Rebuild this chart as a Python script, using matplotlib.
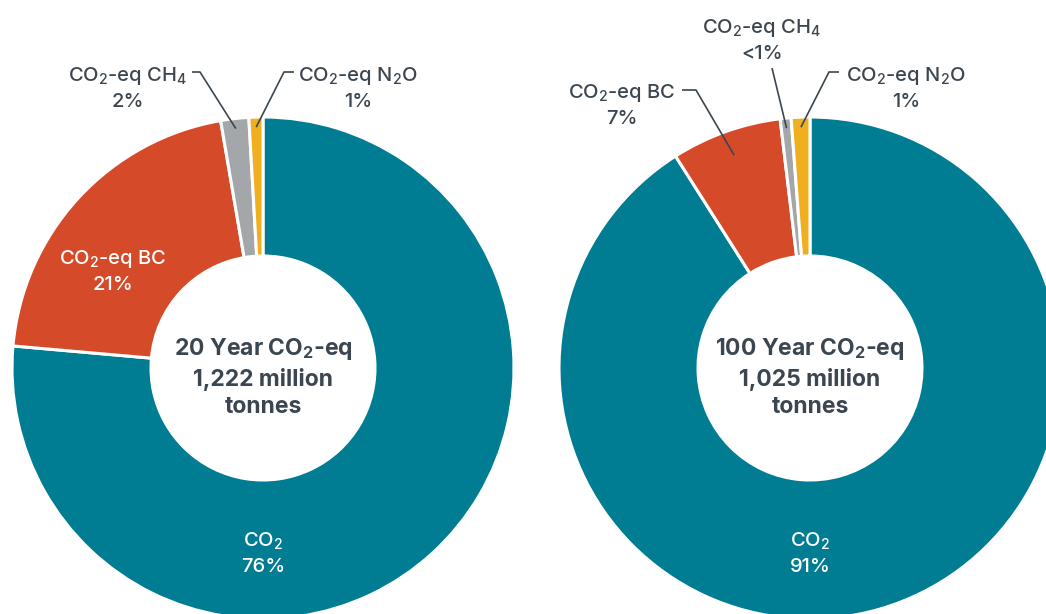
import numpy as np
import matplotlib
matplotlib.use("Agg")
import matplotlib.pyplot as plt

plt.rcParams['font.family'] = ['Inter', 'DejaVu Sans']
plt.rcParams['mathtext.fontset'] = 'custom'
plt.rcParams['mathtext.rm'] = 'Inter:medium'
plt.rcParams['mathtext.bf'] = 'Inter:bold'

# Data (share of CO2-eq emissions, %)
labels = ["CO$_2$", "CO$_2$-eq BC", "CO$_2$-eq CH$_4$", "CO$_2$-eq N$_2$O"]
share_20yr = [76.4, 20.9, 1.8, 0.9]
share_100yr = [91.0, 7.1, 0.7, 1.2]
pct_20yr = ["76%", "21%", "2%", "1%"]
pct_100yr = ["91%", "7%", "<1%", "1%"]
totals = ["1,222", "1,025"]
horizons = ["20 Year", "100 Year"]

colors = ["#007D92", "#D54B29", "#A3A7AA", "#F0AF1F"]
dark = "#3B4650"

W, H = 1046, 614
fig = plt.figure(figsize=(W / 100, H / 100), dpi=100)
ax = fig.add_axes([0, 0, 1, 1])

R_OUT, R_IN = 251, 112
centers = [(263, H - 368), (810, H - 368)]
FS = 14.5
LS = 1.42


def anchor(w, center, frac=0.96):
    mid = np.deg2rad((w.theta1 + w.theta2) / 2)
    return center[0] + frac * R_OUT * np.cos(mid), center[1] + frac * R_OUT * np.sin(mid)


def leader(pt, elbow, end):
    ax.plot([pt[0], elbow[0], end[0]], [pt[1], elbow[1], end[1]],
            color=dark, lw=1.2, solid_capstyle='butt', zorder=5)


def label(x, y, txt, color):
    ax.text(x, y, txt, ha="center", va="center", color=color, fontsize=FS,
            fontweight="medium", linespacing=LS)


# ---- left donut (20 year)
wl, _ = ax.pie(share_20yr, colors=colors, startangle=90, counterclock=False,
               radius=R_OUT, center=centers[0], frame=True,
               wedgeprops=dict(width=R_OUT - R_IN, edgecolor="white", linewidth=2.2))
# ---- right donut (100 year)
wr, _ = ax.pie(share_100yr, colors=colors, startangle=90, counterclock=False,
               radius=R_OUT, center=centers[1], frame=True,
               wedgeprops=dict(width=R_OUT - R_IN, edgecolor="white", linewidth=2.2))

for c, hz, tot in zip(centers, horizons, totals):
    ax.text(c[0], c[1] - 9, f"{hz} CO$_\\mathbf{{2}}$-eq\n{tot} million\ntonnes",
            ha="center", va="center", fontsize=16.5, fontweight="bold",
            color=dark, linespacing=1.3)

# inside labels
label(centers[0][0], H - 553, f"{labels[0]}\n{pct_20yr[0]}", "white")
label(centers[1][0], H - 553, f"{labels[0]}\n{pct_100yr[0]}", "white")
label(113, H - 271, f"{labels[1]}\n{pct_20yr[1]}", "white")

# outside labels, left
label(128, H - 88, f"{labels[2]}\n{pct_20yr[2]}", dark)
leader(anchor(wl[2], centers[0]), (200, H - 72), (192, H - 72))
label(358, H - 88, f"{labels[3]}\n{pct_20yr[3]}", dark)
leader(anchor(wl[3], centers[0]), (284, H - 72), (294, H - 72))

# outside labels, right
label(622, H - 105, f"{labels[1]}\n{pct_100yr[1]}", dark)
leader(anchor(wr[1], centers[1], 0.9), (696, H - 90), (682, H - 90))
label(762, H - 40, f"{labels[2]}\n{pct_100yr[2]}", dark)
leader(anchor(wr[2], centers[1]), (772, H - 68), (772, H - 68))
label(906, H - 88, f"{labels[3]}\n{pct_100yr[3]}", dark)
leader(anchor(wr[3], centers[1]), (829, H - 72), (839, H - 72))

ax.set_xlim(0, W)
ax.set_ylim(0, H)
ax.set_aspect("auto")
ax.axis("off")

fig.savefig("out.png", dpi=100)
